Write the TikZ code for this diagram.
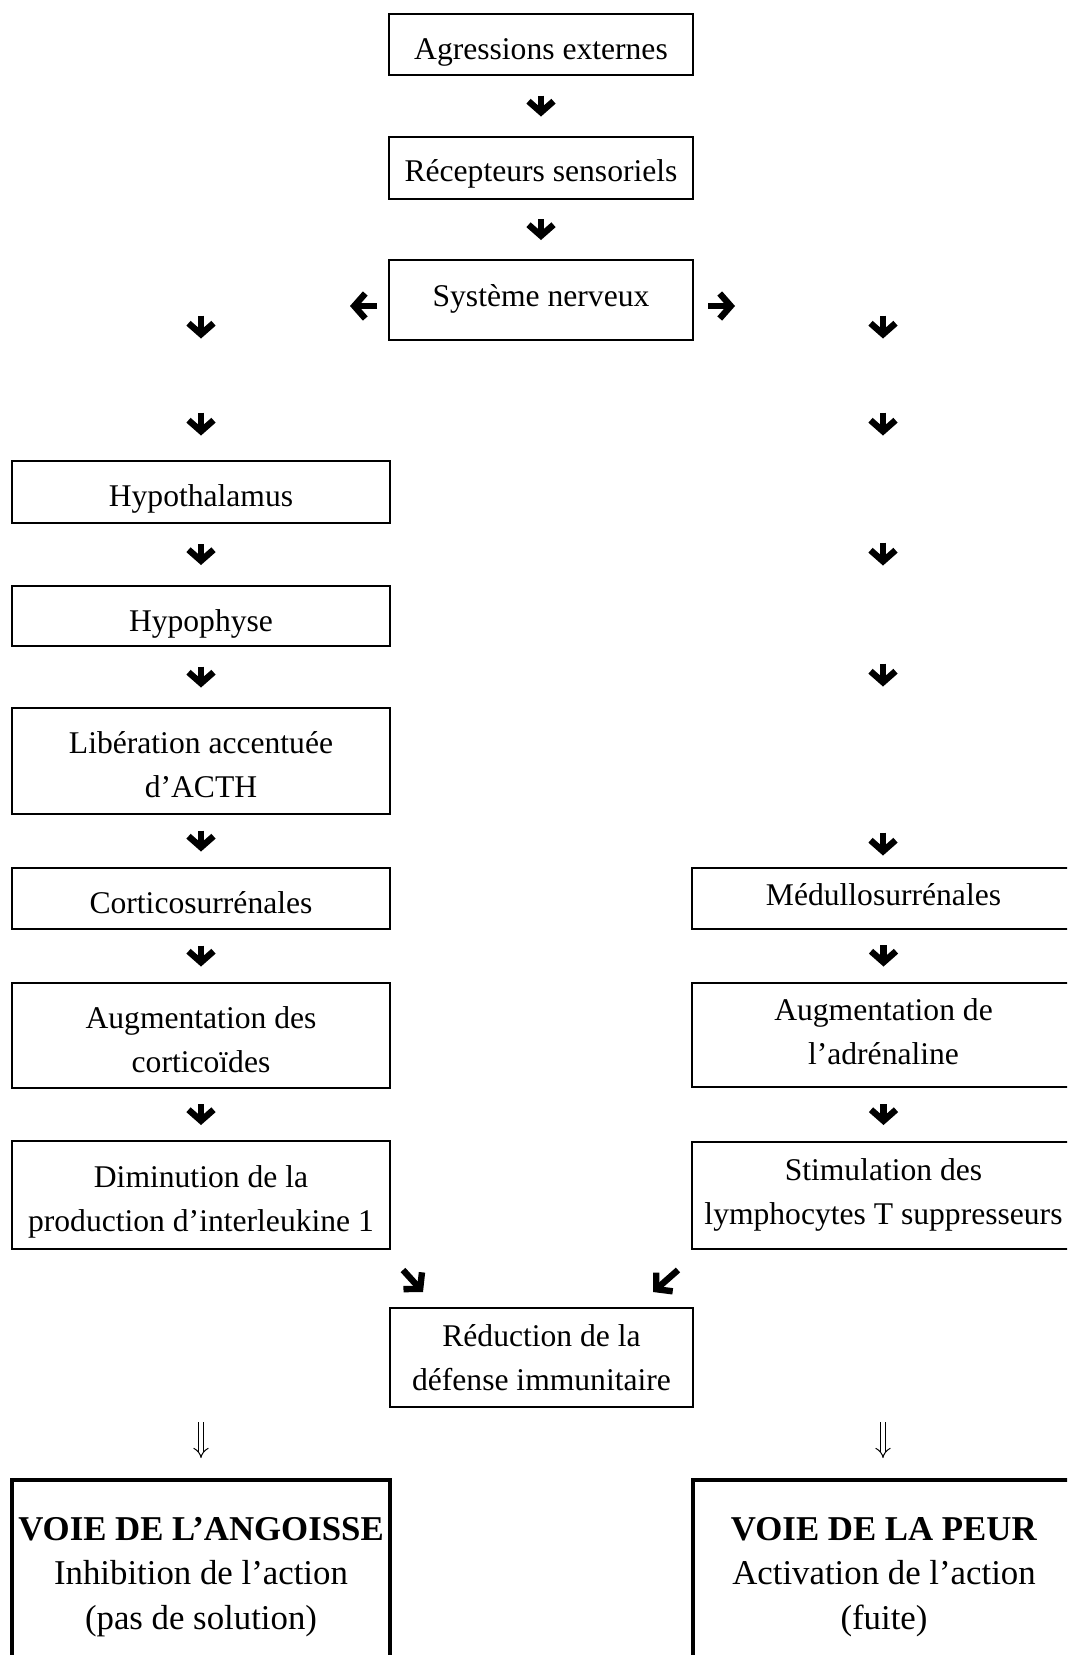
\documentclass[tikz,border=0pt]{standalone}
\usepackage{fontspec}
\setmainfont{Liberation Serif}
\usetikzlibrary{calc}
\usetikzlibrary{arrows.meta}
\tikzset{
  box/.style={rectangle, draw, line width=1pt, inner sep=0pt, align=center, text depth=0pt, font=\fontsize{15.8}{22}\selectfont},
  midbox/.style={box, minimum width=152pt},
  colbox/.style={box, minimum width=189pt},
  rightbox/.style={box, minimum width=191.5pt},
  waybox/.style={rectangle, draw, line width=2.25pt, inner sep=0pt, align=center, text depth=0pt, minimum width=189pt, minimum height=94pt, font=\fontsize{17.4}{22.25}\selectfont},
  arrow/.style={draw, line width=3.2pt, -{Straight Barb[length=5.5pt, width=12.5pt]}},
  flowgap/.style={arrow, shorten <=#1, shorten >=#1},
  dblarrow/.style={draw, double, line width=0.5pt, double distance=2.2pt, -{Implies}}
  }

\begin{document}
\begin{tikzpicture}[x=0.5pt, y=-0.5pt]
	\clip (0,0) rectangle (1067,1655);

	% Nodes
	\node[midbox, minimum height=30.5pt, text height=14.5pt] (agr) at (541,44.5) {Agressions externes};
	\node[midbox, minimum height=31pt, text height=13pt] (rec) at (541,168) {Récepteurs sensoriels};
	\node[midbox, minimum height=40pt, text height=6pt] (sys) at (541,300) {Système nerveux};

	\node[colbox, minimum height=31pt, text height=14pt] (hyt) at (201,492) {Hypothalamus};
	\node[colbox, minimum height=30pt, text height=15.5pt] (hyp) at (201,616) {Hypophyse};
	\node[colbox, minimum height=53pt, text height=36pt] (lib) at (201,761) {Libération accentuée\\d’ACTH};
	\node[colbox, minimum height=30.5pt, text height=15pt] (cor) at (201,898.5) {Corticosurrénales};
	\node[colbox, minimum height=52.5pt, text height=36.5pt] (aug) at (201,1035.5) {Augmentation des\\corticoïdes};
	\node[colbox, minimum height=54pt, text height=36pt] (dim) at (201,1195) {Diminution de la\\production d’interleukine 1};

	\node[rightbox, minimum height=30.5pt, text height=7pt] (med) at (883.5,898) {Médullosurrénales};
	\node[rightbox, minimum height=52pt, text height=29pt] (adr) at (883.5,1035) {Augmentation de\\l’adrénaline};
	\node[rightbox, minimum height=53.5pt, text height=28.5pt] (sti) at (883.5,1195.5) {Stimulation des\\lymphocytes T suppresseurs};

	\node[midbox, minimum width=151.5pt, minimum height=49.5pt, text height=33pt] (red) at (541.5,1357.5) {Réduction de la\\défense immunitaire};

	\node[waybox, text height=55pt] (ang) at (201,1574) {\textbf{VOIE DE L’ANGOISSE}\\Inhibition de l’action\\(pas de solution)};
	\node[waybox, minimum width=191pt, text height=55pt] (peur) at (884,1574) {\textbf{VOIE DE LA PEUR}\\Activation de l’action\\(fuite)};

	% Free arrow ends
	\coordinate (sysL) at (350,306);
	\coordinate (sysR) at (735,306);
	\coordinate (dl1) at (403,1270);
	\coordinate (dl2) at (423,1292);
	\coordinate (dr1) at (678,1270);
	\coordinate (dr2) at (653,1292);
	\coordinate (ul1) at (201,1422);
	\coordinate (ul2) at (201,1458);
	\coordinate (ur1) at (883,1422);
	\coordinate (ur2) at (883,1458);

	% Arrows
	\draw[flowgap=9.75pt] (agr) -- (rec);
	\draw[flowgap=9.5pt] (rec) -- (sys);
	\draw[arrow, shorten <=5.5pt] (sys.west |- sysL) -- (sysL);
	\draw[arrow, shorten <=7pt] (sys.east |- sysR) -- (sysR);

	\foreach \y [count=\i] in {327,424} {
		\coordinate (la\i) at (201,\y-11.5);
		\coordinate (lb\i) at (201,\y+11.5);
		\draw[arrow] (la\i) -- (lb\i);
	}
	\draw[flowgap=10pt] (hyt) -- (hyp);
	\draw[flowgap=9.75pt] (hyp) -- (lib);
	\draw[flowgap=7.75pt] (lib) -- (cor);
	\draw[flowgap=7.75pt] (cor) -- (aug);
	\draw[flowgap=7.5pt] (aug) -- (dim);

	\foreach \y [count=\i] in {327,424,554,675,844} {
		\coordinate (ra\i) at (883,\y-11.5);
		\coordinate (rb\i) at (883,\y+11.5);
		\draw[arrow] (ra\i) -- (rb\i);
	}
	\draw[flowgap=7.75pt] (med) -- (adr);
	\draw[flowgap=8pt] (adr) -- (sti);

	% Arrows to reduction and ways
	\draw[arrow] (dl1) -- (dl2);
	\draw[arrow] (dr1) -- (dr2);
	\draw[dblarrow] (ul1) -- (ul2);
	\draw[dblarrow] (ur1) -- (ur2);

\end{tikzpicture}
\end{document}
